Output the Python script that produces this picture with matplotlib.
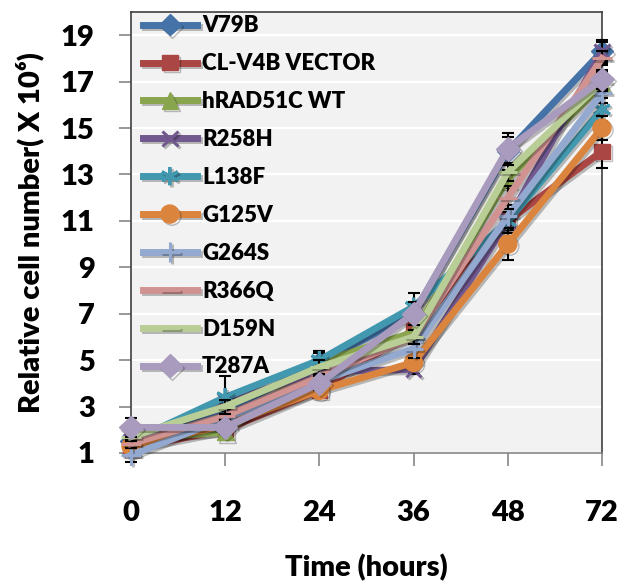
import matplotlib
matplotlib.use("Agg")
import matplotlib.pyplot as plt
import matplotlib.patheffects as pe

plt.rcParams['font.family'] = ['Lato', 'DejaVu Sans']
plt.rcParams['font.weight'] = 'heavy'

hours = ["0", "12", "24", "36", "48", "72"]
y_ticks = [1, 3, 5, 7, 9, 11, 13, 15, 17, 19]

v79b = [1.5, 2.8, 4.9, 7.0, 14.0, 18.3]
cl_v4b = [1.2, 2.0, 3.7, 6.3, 11.0, 14.0]
hrad51c = [1.6, 1.9, 4.9, 6.2, 12.8, 16.9]
r258h = [1.5, 3.2, 4.5, 4.6, 11.0, 18.3]
l138f = [1.5, 3.4, 5.0, 7.3, 11.0, 15.8]
g125v = [1.3, 2.2, 3.7, 4.9, 10.0, 15.0]
g264s = [0.9, 2.5, 4.1, 5.5, 11.2, 16.5]
r366q = [1.4, 2.6, 4.3, 6.0, 12.0, 18.0]
d159n = [1.7, 3.0, 4.7, 6.0, 13.1, 17.0]
t287a = [2.1, 2.1, 4.0, 7.0, 14.1, 17.1]

v79b_err = [0.3, 0.3, 0.5, 0.4, 0.6, 0.5]
cl_v4b_err = [0.2, 0.2, 0.3, 0.3, 0.5, 0.7]
hrad51c_err = [0.2, 0.3, 0.5, 0.3, 0.4, 0.4]
r258h_err = [0.2, 0.3, 0.3, 0.2, 0.4, 0.4]
l138f_err = [0.3, 0.9, 0.3, 0.6, 0.5, 0.5]
g125v_err = [0.2, 0.3, 0.3, 0.3, 0.7, 0.5]
g264s_err = [0.3, 0.3, 0.3, 0.4, 0.5, 0.4]
r366q_err = [0.2, 0.3, 0.3, 0.3, 0.5, 0.3]
d159n_err = [0.2, 0.3, 0.3, 0.3, 0.4, 0.4]
t287a_err = [0.4, 0.3, 0.3, 0.5, 0.7, 0.4]

# label, values, errors, colour, marker, marker size
series = [
    ("V79B", v79b, v79b_err, "#4572A7", "D", 11),
    ("CL-V4B VECTOR", cl_v4b, cl_v4b_err, "#AA4643", "s", 11),
    ("hRAD51C WT", hrad51c, hrad51c_err, "#89A54E", "^", 12),
    ("R258H", r258h, r258h_err, "#71588F", "x", 11),
    ("L138F", l138f, l138f_err, "#4198AF", (6, 2, 0), 13),
    ("G125V", g125v, g125v_err, "#DB843D", "o", 13),
    ("G264S", g264s, g264s_err, "#93A9CF", "+", 14),
    ("R366Q", r366q, r366q_err, "#D19392", "_", 14),
    ("D159N", d159n, d159n_err, "#B9CD96", "_", 14),
    ("T287A", t287a, t287a_err, "#A99BBD", "D", 12),
]

fig = plt.figure(figsize=(6.24, 5.83), dpi=100)
ax = fig.add_axes([0.2099, 0.2230, 0.7548, 0.7564])
ax.set_facecolor("#f2f2f2")

x = list(range(len(hours)))
for i, (label, vals, errs, color, marker, ms) in enumerate(series):
    z = 3 + i
    ax.errorbar(x, vals, yerr=errs, fmt="none", ecolor="black", elinewidth=1.5,
                capsize=4, capthick=1.5, zorder=z, clip_on=False)
    mew = 2.2 if marker in ("x", "+", "_", (6, 2, 0)) else 1
    ax.plot(x, vals, color=color, lw=5, marker=marker, ms=ms,
            markeredgecolor=color, markeredgewidth=mew, label=label,
            zorder=z + 0.5, clip_on=False,
            path_effects=[pe.SimpleLineShadow(offset=(1.5, -1.5), alpha=0.25), pe.Normal()])

ax.set_xlim(0, len(hours) - 1)
ax.set_ylim(1, 20)
ax.set_xticks(x)
ax.set_xticklabels(hours)
ax.set_yticks(y_ticks)
ax.grid(axis="y", color="white", lw=1.6, zorder=1)
ax.set_axisbelow(True)

ax.tick_params(axis="both", direction="out", length=9, width=1.2, color="#868686",
               labelsize=21, pad=4)
ax.tick_params(axis="x", pad=25)
ax.tick_params(axis="y", pad=17)

for side in ("left", "top", "right"):
    ax.spines[side].set_color("#404040")
    ax.spines[side].set_linewidth(1.2)
ax.spines["bottom"].set_color("#868686")
ax.spines["bottom"].set_linewidth(1.2)

ax.set_xlabel("Time (hours)", fontsize=21, fontweight="heavy", labelpad=20)
ax.set_ylabel("Relative cell number( X 10\u2076)", fontsize=21, fontweight="heavy", labelpad=12)

leg = ax.legend(loc="upper left", bbox_to_anchor=(0.0, 1.02), frameon=False,
                prop={"size": 16, "weight": "heavy"}, handlelength=2.4,
                handletextpad=0.25, labelspacing=0.76, borderaxespad=0.4,
                borderpad=0.15)
leg.set_zorder(20)

fig.savefig("out.png", dpi=100)
